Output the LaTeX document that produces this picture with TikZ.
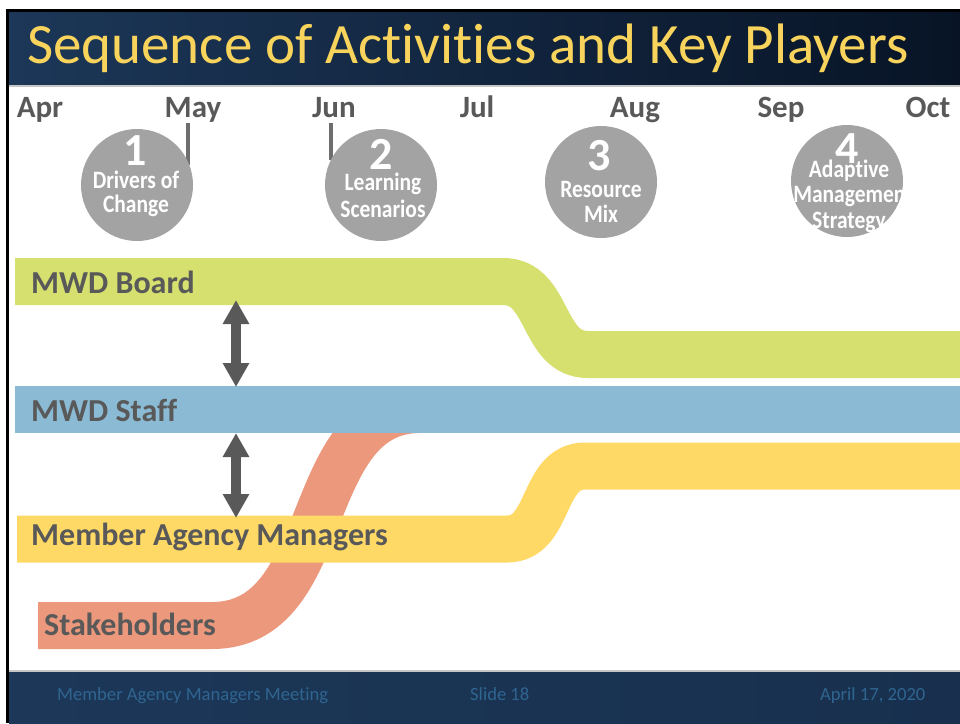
\documentclass[tikz,border=0pt]{standalone}
\usepackage{fontspec}
\setmainfont{Carlito}[Ligatures=NoCommon]
\usetikzlibrary{arrows.meta}
\definecolor{bgreen}{HTML}{D5E06F}
\definecolor{bblue}{HTML}{8BBAD4}
\definecolor{byellow}{HTML}{FFD966}
\definecolor{bsalmon}{HTML}{EC987C}
\definecolor{circgray}{HTML}{A3A3A3}
\definecolor{txtgray}{HTML}{595959}
\definecolor{tickgray}{HTML}{6E6E6E}
\definecolor{titleyellow}{HTML}{F9D45C}
\definecolor{navyA}{RGB}{28,55,88}
\definecolor{navyB}{RGB}{20,42,70}
\definecolor{navyC}{RGB}{8,20,38}
\definecolor{foottxt}{HTML}{2F6590}
\tikzset{
  band/.style={line width=47pt},
  month/.style={anchor=base, inner sep=0pt, text=txtgray, font=\fontsize{31}{33}\selectfont\bfseries},
  bandlabel/.style={anchor=base west, inner sep=0pt, text=txtgray, font=\fontsize{32}{34}\selectfont\bfseries},
  circstep/.style={circle, fill=circgray, minimum size=112pt, inner sep=0pt},
  circnum/.style={anchor=center, inner sep=0pt, text=white, font=\fontsize{46}{46}\selectfont\bfseries},
  circtxt/.style={anchor=center, inner sep=0pt, text=white, font=\fontsize{25}{26}\selectfont\bfseries},
  tickmark/.style={line width=4.5pt, tickgray},
  dblarrow/.style={line width=9.5pt, txtgray, {Triangle[width=25pt,length=24pt]}-{Triangle[width=25pt,length=24pt]}},
  foot/.style={anchor=base west, inner sep=0pt, text=foottxt, font=\fontsize{18.6}{20}\selectfont}
}
\begin{document}
\begin{tikzpicture}[x=1pt,y=-1pt]
\useasboundingbox (0,0) rectangle (960,723);
\fill[white] (0,0) rectangle (960,723);
% frame lines
\fill[black] (6,9) rectangle (960,12);
\fill[black] (6,9) rectangle (9,723);
% title bar
\shade[left color=navyA, middle color=navyB, right color=navyC] (9,12) rectangle (960,85);
\fill[gray!45] (9,85) rectangle (960,86.5);
\node[anchor=base west, inner sep=0pt, text=titleyellow, font=\fontsize{57}{60}\selectfont] (title) at (27,63) {Sequence of Activities and Key Players};
% footer
\shade[left color=navyA, middle color=navyB, right color=navyA!80!navyC] (9,671) rectangle (960,723);
\fill[gray!45] (9,670) rectangle (960,671.5);
\node[foot] (f1) at (57,700) {Member Agency Managers Meeting};
\node[foot] (f2) at (470,700) {Slide 18};
\node[foot] (f3) at (820,700) {April 17, 2020};
% months
\node[month] (apr) at (40,117) {Apr};
\node[month] (may) at (193,117) {May};
\node[month] (jun) at (334,117) {Jun};
\node[month] (jul) at (477,117) {Jul};
\node[month] (aug) at (635,117) {Aug};
\node[month] (sep) at (781,117) {Sep};
\node[month] (oct) at (928,117) {Oct};
% ticks
\coordinate (t1a) at (188,123); \coordinate (t1b) at (188,165);
\coordinate (t2a) at (331,123); \coordinate (t2b) at (331,160);
\draw[tickmark] (t1a) -- (t1b);
\draw[tickmark] (t2a) -- (t2b);
% circles
\node[circstep] (c1) at (137,185) {};
\node[circstep] (c2) at (381,185) {};
\node[circstep] (c3) at (601,182) {};
\node[circstep] (c4) at (847,181) {};
\node[circnum] (n1) at (135,151) {1};
\node[circtxt] (d1a) at (136,180) {\scalebox{0.86}[1]{Drivers of}};
\node[circtxt] (d1b) at (136,206) {\scalebox{0.86}[1]{Change}};
\node[circnum] (n2) at (381,154) {2};
\node[circtxt] (d2a) at (383,184) {\scalebox{0.86}[1]{Learning}};
\node[circtxt] (d2b) at (383,209) {\scalebox{0.86}[1]{Scenarios}};
\node[circnum] (n3) at (599,156) {3};
\node[circtxt] (d3a) at (601,189) {\scalebox{0.86}[1]{Resource}};
\node[circtxt] (d3b) at (601,214) {\scalebox{0.86}[1]{Mix}};
\begin{scope}
\clip (847,181) circle[radius=56pt];
\node[circnum] (n4) at (847,149) {4};
\node[circtxt] (d4a) at (849,171) {\scalebox{0.86}[1]{Adaptive}};
\node[circtxt] (d4b) at (853,197) {\scalebox{0.86}[1]{Management}};
\node[circtxt] (d4c) at (849,222) {\scalebox{0.86}[1]{Strategy}};
\end{scope}
% bands
\draw[band, bsalmon] (38,625.5) -- (212,625.5) .. controls (335,625.5) and (300,409.5) .. (420,409.5);
\draw[band, bgreen] (15,281.5) -- (503,281.5) .. controls (550,281.5) and (541,354.5) .. (588,354.5) -- (965,354.5);
\draw[band, bblue] (15,409.5) -- (965,409.5);
\draw[band, byellow] (17,539) -- (507,539) .. controls (551,539) and (541,466) .. (585,466) -- (965,466);
% labels
\node[bandlabel] (lboard) at (31,293) {MWD Board};
\node[bandlabel] (lstaff) at (31,421) {MWD Staff};
\node[bandlabel] (lmam) at (31,545) {Member Agency Managers};
\node[bandlabel] (lstake) at (44,635) {Stakeholders};
% arrows
\coordinate (boardLow) at (236,300);
\coordinate (staffTop) at (236,387);
\coordinate (staffLow) at (236,433);
\coordinate (mamTop) at (236,518);
\draw[dblarrow] (boardLow) -- (staffTop);
\draw[dblarrow] (staffLow) -- (mamTop);
\end{tikzpicture}
\end{document}
